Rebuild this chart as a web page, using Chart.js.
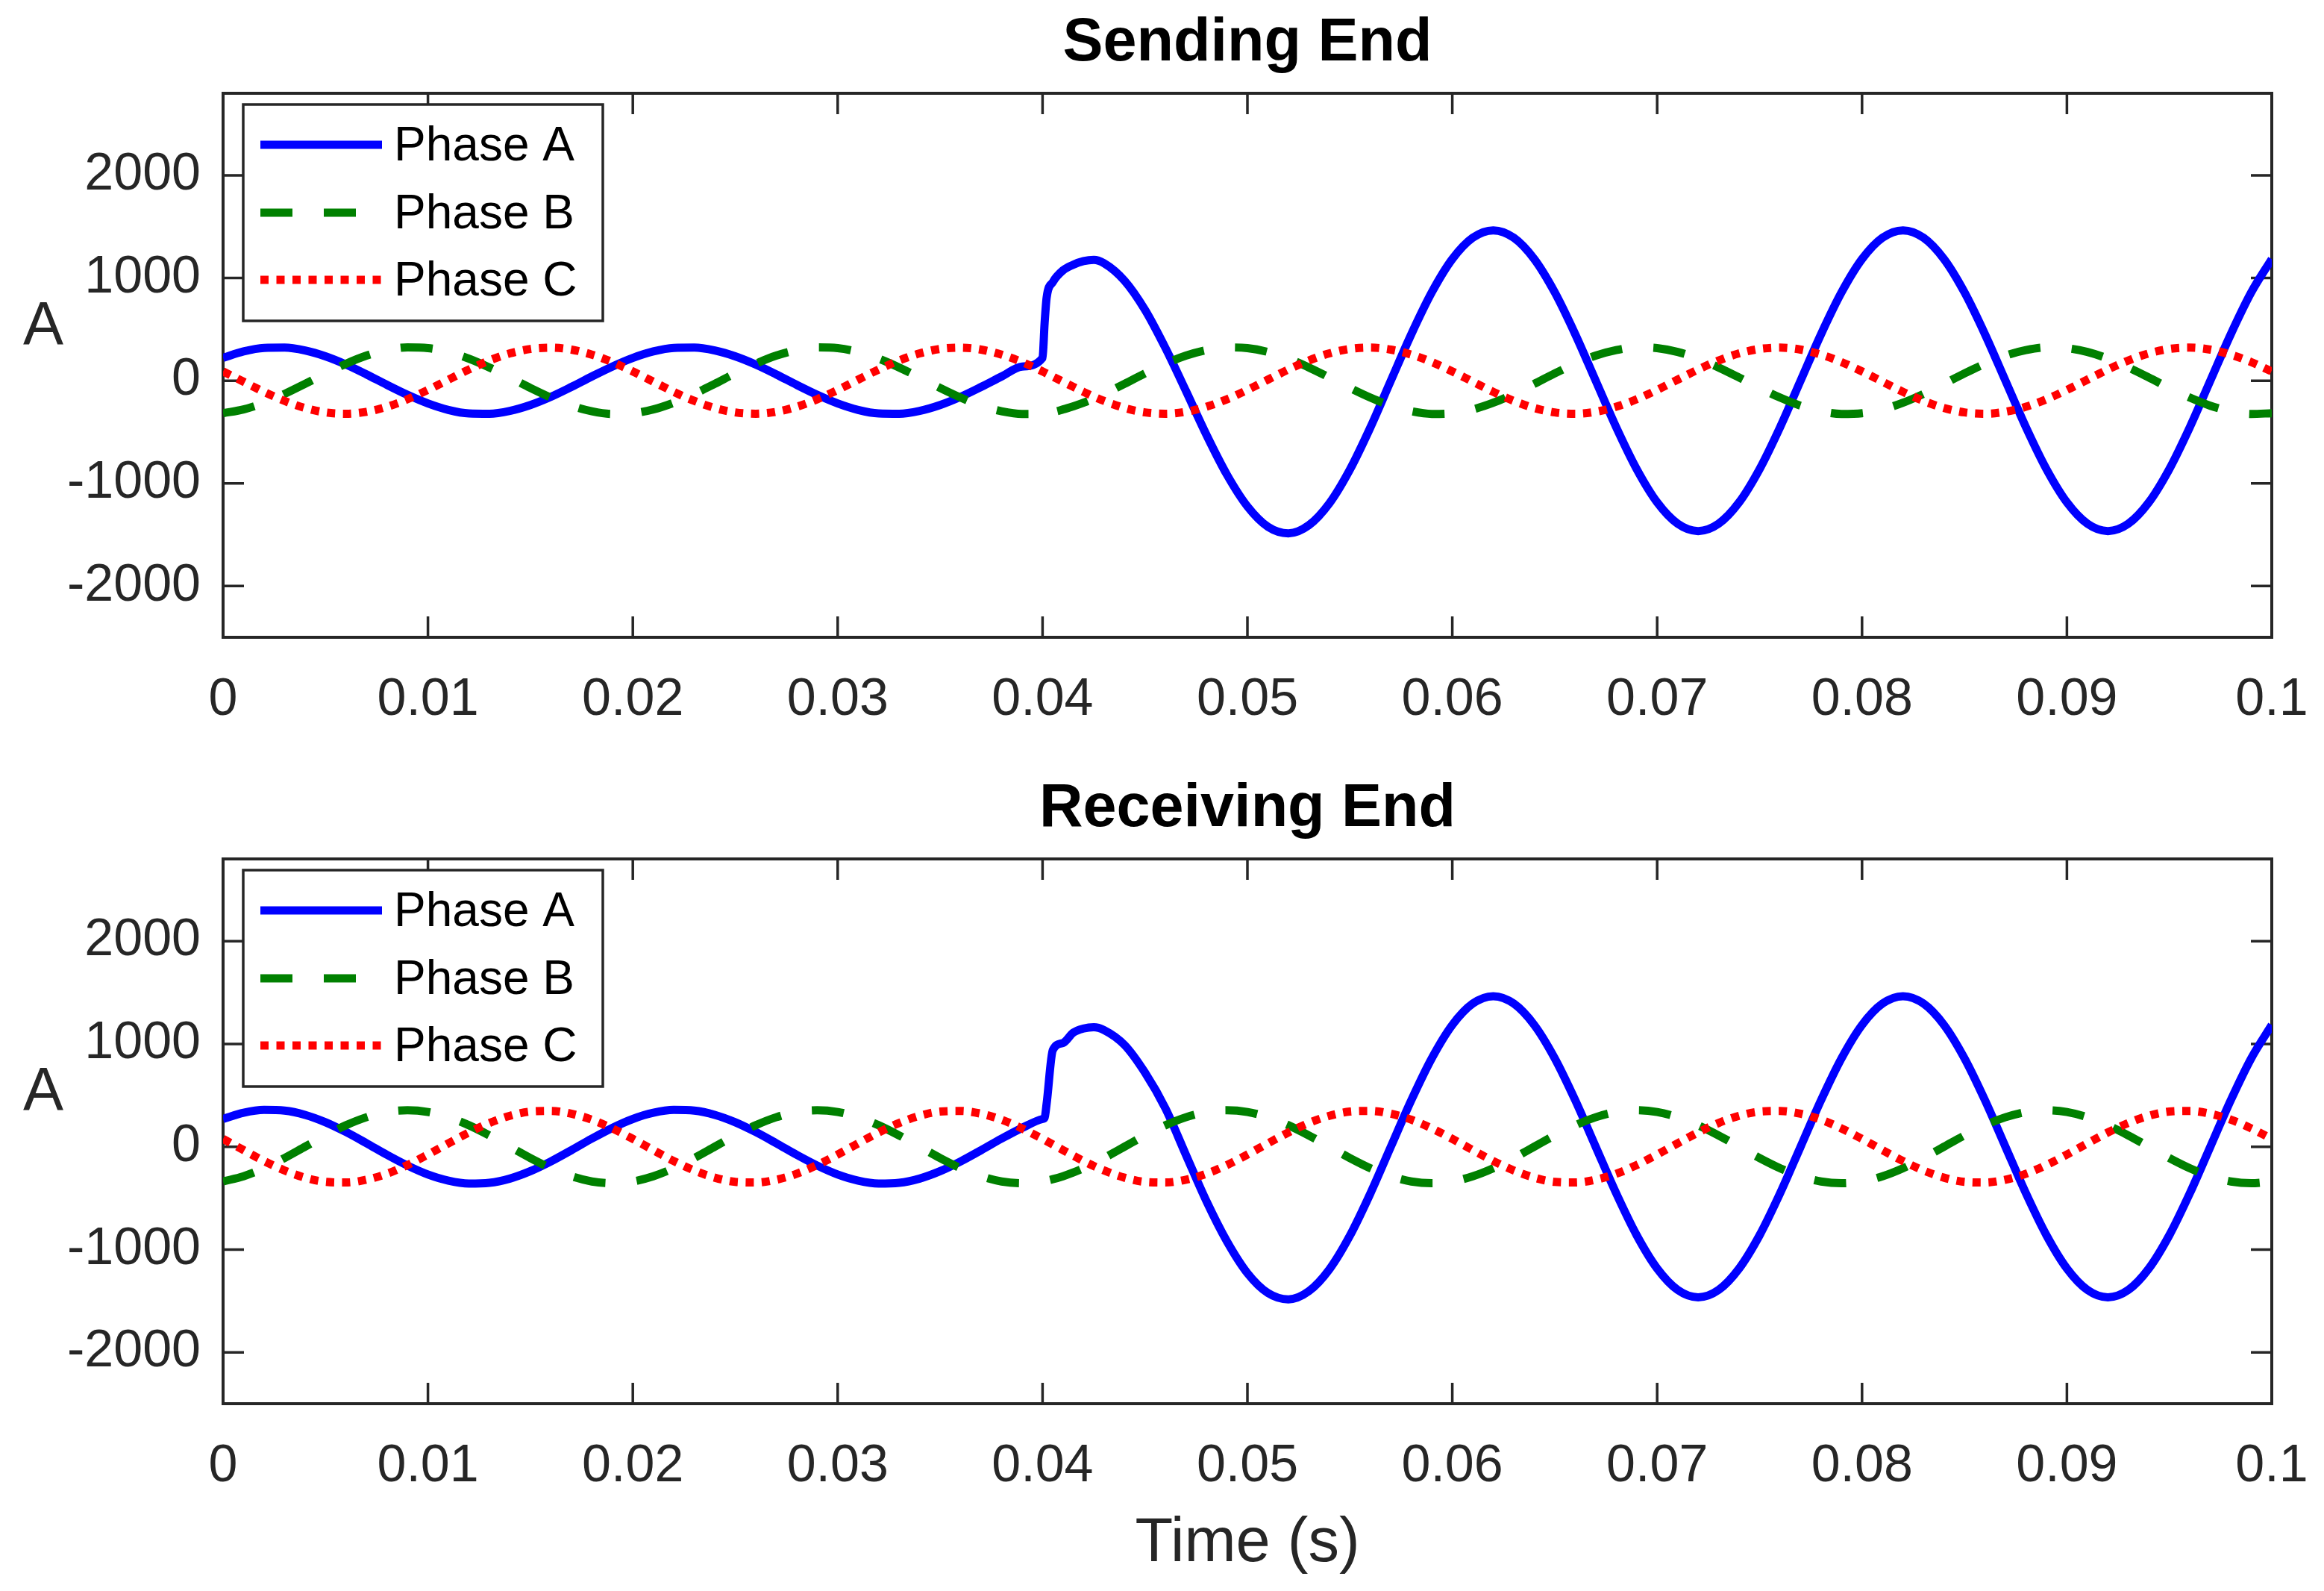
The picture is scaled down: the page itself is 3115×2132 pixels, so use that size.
<!DOCTYPE html>
<html>
<head>
<meta charset="utf-8">
<title>Sending End / Receiving End</title>
<script src="https://cdn.jsdelivr.net/npm/chart.js@4.4.1/dist/chart.umd.min.js"></script>
<style>
  html, body { margin: 0; padding: 0; background: #fff; overflow: hidden; }
  canvas { position: absolute; left: 0; }
  #topChart { top: 0; }
  #bottomChart { top: 1000px; }
</style>
</head>
<body>
<canvas id="topChart" width="3115" height="1000"></canvas>
<canvas id="bottomChart" width="3115" height="1132"></canvas>
<script>
// time samples in ms (extra points around the fault at 40 ms)
const timeMs = [
  0, 1, 2, 3, 4, 5, 6, 7, 8, 9,
  10, 11, 12, 13, 14, 15, 16, 17, 18, 19,
  20, 21, 22, 23, 24, 25, 26, 27, 28, 29,
  30, 31, 32, 33, 34, 35, 36, 37, 38, 39,
  40, 40.1, 40.2, 40.5, 41, 41.5, 42, 42.5,
  43, 44, 45, 46, 47, 48, 49,
  50, 51, 52, 53, 54, 55, 56, 57, 58, 59,
  60, 61, 62, 63, 64, 65, 66, 67, 68, 69,
  70, 71, 72, 73, 74, 75, 76, 77, 78, 79,
  80, 81, 82, 83, 84, 85, 86, 87, 88, 89,
  90, 91, 92, 93, 94, 95, 96, 97, 98, 99,
  100
];

// Sending End currents (A)
const sendA = [
  222, 285, 319, 322, 294, 237, 157, 61, -41, -138,
  -222, -285, -319, -322, -294, -237, -157, -61, 41, 138,
  222, 285, 319, 322, 294, 237, 157, 61, -41, -138,
  -222, -285, -319, -322, -294, -237, -157, -61, 41, 138,
  222, 560, 810, 960, 1075, 1130, 1165, 1177,
  1145, 975, 691, 318, -100, -528, -916,
  -1225, -1423, -1487, -1408, -1195, -867, -456, 0, 453, 861,
  1185, 1393, 1465, 1393, 1185, 861, 453, 0, -453, -861,
  -1185, -1393, -1465, -1393, -1185, -861, -453, 0, 453, 861,
  1185, 1393, 1465, 1393, 1185, 861, 453, 0, -453, -861,
  -1185, -1393, -1465, -1393, -1185, -861, -453, 0, 453, 861,
  1185
];
const sendB = [
  -317, -280, -215, -129, -31, 71, 165, 244, 298, 324,
  317, 280, 215, 129, 31, -71, -165, -244, -298, -324,
  -317, -280, -215, -129, -31, 71, 165, 244, 298, 324,
  317, 280, 215, 129, 31, -71, -165, -244, -298, -324,
  -317, -285, -300, -302, -280, -250, -215, -174,
  -129, -31, 71, 165, 244, 298, 324,
  317, 280, 215, 129, 31, -71, -165, -244, -298, -324,
  -317, -280, -215, -129, -31, 71, 165, 244, 298, 324,
  317, 280, 215, 129, 31, -71, -165, -244, -298, -324,
  -317, -280, -215, -129, -31, 71, 165, 244, 298, 324,
  317, 280, 215, 129, 31, -71, -165, -244, -298, -324,
  -317
];
const sendC = [
  90, -10, -109, -197, -266, -309, -322, -303, -254, -181,
  -90, 10, 109, 197, 266, 309, 322, 303, 254, 181,
  90, -10, -109, -197, -266, -309, -322, -303, -254, -181,
  -90, 10, 109, 197, 266, 309, 322, 303, 254, 181,
  90, 80, 70, 40, -10, -60, -109, -155,
  -197, -266, -309, -322, -303, -254, -181,
  -90, 10, 109, 197, 266, 309, 322, 303, 254, 181,
  90, -10, -109, -197, -266, -309, -322, -303, -254, -181,
  -90, 10, 109, 197, 266, 309, 322, 303, 254, 181,
  90, -10, -109, -197, -266, -309, -322, -303, -254, -181,
  -90, 10, 109, 197, 266, 309, 322, 303, 254, 181,
  90
];

// Receiving End currents (A)
const recvA = [
  270, 330, 358, 351, 310, 238, 143, 34, -79, -183,
  -270, -330, -358, -351, -310, -238, -143, -34, 79, 183,
  270, 330, 358, 351, 310, 238, 143, 34, -79, -183,
  -270, -330, -358, -351, -310, -238, -143, -34, 79, 183,
  270, 282, 420, 940, 1010, 1110, 1150, 1163,
  1135, 990, 721, 372, -80, -530, -921,
  -1230, -1423, -1485, -1405, -1193, -866, -455, 0, 453, 861,
  1185, 1393, 1465, 1393, 1185, 861, 453, 0, -453, -861,
  -1185, -1393, -1465, -1393, -1185, -861, -453, 0, 453, 861,
  1185, 1393, 1465, 1393, 1185, 861, 453, 0, -453, -861,
  -1185, -1393, -1465, -1393, -1185, -861, -453, 0, 453, 861,
  1185
];
const recvB = [
  -338, -287, -209, -110, 0, 110, 209, 287, 338, 355,
  338, 287, 209, 110, 0, -110, -209, -287, -338, -355,
  -338, -287, -209, -110, 0, 110, 209, 287, 338, 355,
  338, 287, 209, 110, 0, -110, -209, -287, -338, -355,
  -338, -334, -330, -316, -287, -251, -209, -161,
  -110, 0, 110, 209, 287, 338, 355,
  338, 287, 209, 110, 0, -110, -209, -287, -338, -355,
  -338, -287, -209, -110, 0, 110, 209, 287, 338, 355,
  338, 287, 209, 110, 0, -110, -209, -287, -338, -355,
  -338, -287, -209, -110, 0, 110, 209, 287, 338, 355,
  338, 287, 209, 110, 0, -110, -209, -287, -338, -355,
  -338
];
const recvC = [
  76, -33, -139, -231, -301, -342, -348, -321, -263, -178,
  -76, 33, 139, 231, 301, 342, 348, 321, 263, 178,
  76, -33, -139, -231, -301, -342, -348, -321, -263, -178,
  -76, 33, 139, 231, 301, 342, 348, 321, 263, 178,
  76, 66, 55, 22, -33, -87, -139, -188,
  -231, -301, -342, -348, -321, -263, -178,
  -76, 33, 139, 231, 301, 342, 348, 321, 263, 178,
  76, -33, -139, -231, -301, -342, -348, -321, -263, -178,
  -76, 33, 139, 231, 301, 342, 348, 321, 263, 178,
  76, -33, -139, -231, -301, -342, -348, -321, -263, -178,
  -76, 33, 139, 231, 301, 342, 348, 321, 263, 178,
  76
];

const seriesNames = ['Phase A', 'Phase B', 'Phase C'];
const xTicks = [0, 0.01, 0.02, 0.03, 0.04, 0.05, 0.06, 0.07, 0.08, 0.09, 0.1];
const xTickLabels = ['0', '0.01', '0.02', '0.03', '0.04', '0.05', '0.06', '0.07', '0.08', '0.09', '0.1'];
const yTicks = [-2000, -1000, 0, 1000, 2000];
const yTickLabels = ['-2000', '-1000', '0', '1000', '2000'];

const FONT = '"Liberation Sans", Arial, Helvetica, sans-serif';
const AXIS_COLOR = '#262626';
const TICK_LEN = 28;

// box, inward ticks, legend and free text like MATLAB
const matlabAxes = {
  id: 'matlabAxes',
  beforeDatasetsDraw(chart) {
    const { ctx, chartArea: a, scales } = chart;
    ctx.save();
    ctx.strokeStyle = AXIS_COLOR;
    ctx.lineCap = 'butt';
    ctx.lineWidth = 3.5;
    ctx.beginPath();
    scales.x.ticks.forEach(t => {
      const px = scales.x.getPixelForValue(t.value);
      ctx.moveTo(px, a.bottom); ctx.lineTo(px, a.bottom - TICK_LEN);
      ctx.moveTo(px, a.top); ctx.lineTo(px, a.top + TICK_LEN);
    });
    scales.y.ticks.forEach(t => {
      const py = scales.y.getPixelForValue(t.value);
      ctx.moveTo(a.left, py); ctx.lineTo(a.left + TICK_LEN, py);
      ctx.moveTo(a.right, py); ctx.lineTo(a.right - TICK_LEN, py);
    });
    ctx.stroke();
    ctx.lineWidth = 4;
    ctx.strokeRect(a.left, a.top, a.right - a.left, a.bottom - a.top);
    ctx.restore();
  },
  afterDraw(chart, args, opts) {
    const { ctx, chartArea: a } = chart;
    const cx = (a.left + a.right) / 2;
    ctx.save();

    // title
    ctx.fillStyle = '#000';
    ctx.font = 'bold 81px ' + FONT;
    ctx.textAlign = 'center';
    ctx.textBaseline = 'alphabetic';
    ctx.fillText(opts.title, cx, a.top - 44);

    // y label, not rotated
    ctx.fillStyle = AXIS_COLOR;
    ctx.font = '81px ' + FONT;
    ctx.fillText('A', 58, a.top + 336);

    // x label
    if (opts.xlabel) {
      ctx.font = '83px ' + FONT;
      ctx.fillText(opts.xlabel, cx, a.bottom + 211);
    }

    // legend box
    const lx = a.left + 27, ly = a.top + 15, lw = 482, lh = 290;
    ctx.fillStyle = '#fff';
    ctx.fillRect(lx, ly, lw, lh);
    ctx.strokeStyle = AXIS_COLOR;
    ctx.lineWidth = 3.5;
    ctx.strokeRect(lx, ly, lw, lh);

    const rowY = [69, 160, 250];
    chart.data.datasets.forEach((ds, i) => {
      const y = a.top + rowY[i];
      ctx.save();
      ctx.strokeStyle = ds.borderColor;
      ctx.lineWidth = ds.borderWidth;
      ctx.lineCap = 'butt';
      ctx.setLineDash(ds.borderDash || []);
      ctx.beginPath();
      ctx.moveTo(a.left + 50, y);
      ctx.lineTo(a.left + 213, y);
      ctx.stroke();
      ctx.restore();
      ctx.fillStyle = '#000';
      ctx.font = '64px ' + FONT;
      ctx.textAlign = 'left';
      ctx.textBaseline = 'middle';
      ctx.fillText(ds.label, a.left + 229, y + 3);
    });
    ctx.restore();
  }
};

function toPoints(values) {
  return timeMs.map((t, i) => ({ x: t / 1000, y: values[i] }));
}

function makeChart(canvasId, title, xlabel, a, b, c, padTop, xAxisHeight) {
  const ctx = document.getElementById(canvasId).getContext('2d');
  return new Chart(ctx, {
    type: 'line',
    data: {
      datasets: [
        {
          label: seriesNames[0],
          data: toPoints(a),
          borderColor: '#0000ff',
          borderWidth: 11,
          pointRadius: 0,
          cubicInterpolationMode: 'monotone',
          order: 3
        },
        {
          label: seriesNames[1],
          data: toPoints(b),
          borderColor: '#008000',
          borderWidth: 11,
          borderDash: [43, 42],
          pointRadius: 0,
          cubicInterpolationMode: 'monotone',
          order: 2
        },
        {
          label: seriesNames[2],
          data: toPoints(c),
          borderColor: '#ff0000',
          borderWidth: 11,
          borderDash: [11, 10.5],
          pointRadius: 0,
          cubicInterpolationMode: 'monotone',
          order: 1
        }
      ]
    },
    options: {
      responsive: false,
      animation: false,
      events: [],
      devicePixelRatio: 1,
      layout: { padding: { top: padTop, right: 70, bottom: 0, left: 0 } },
      plugins: {
        legend: { display: false },
        tooltip: { enabled: false },
        matlabAxes: { title: title, xlabel: xlabel }
      },
      scales: {
        x: {
          type: 'linear',
          min: 0,
          max: 0.1,
          bounds: 'data',
          // invisible tick marks only push the labels down
          grid: { display: true, drawOnChartArea: false, drawTicks: true, tickLength: 43, tickColor: 'rgba(0,0,0,0)' },
          border: { display: false },
          afterBuildTicks: scale => { scale.ticks = xTicks.map(v => ({ value: v })); },
          afterFit: scale => { scale.height = xAxisHeight; },
          ticks: {
            autoSkip: false,
            maxRotation: 0,
            padding: 0,
            color: AXIS_COLOR,
            font: { family: FONT, size: 70 },
            callback: (v, i) => xTickLabels[i]
          }
        },
        y: {
          type: 'linear',
          min: -2500,
          max: 2800,
          bounds: 'data',
          grid: { display: false, drawTicks: false },
          border: { display: false },
          afterBuildTicks: scale => { scale.ticks = yTicks.map(v => ({ value: v })); },
          afterFit: scale => { scale.width = 299; },
          ticks: {
            padding: 30,
            color: AXIS_COLOR,
            font: { family: FONT, size: 70 },
            callback: (v, i) => yTickLabels[i]
          }
        }
      }
    },
    plugins: [matlabAxes]
  });
}

makeChart('topChart', 'Sending End', null, sendA, sendB, sendC, 125, 146);
makeChart('bottomChart', 'Receiving End', 'Time (s)', recvA, recvB, recvC, 151, 251);
</script>
</body>
</html>
